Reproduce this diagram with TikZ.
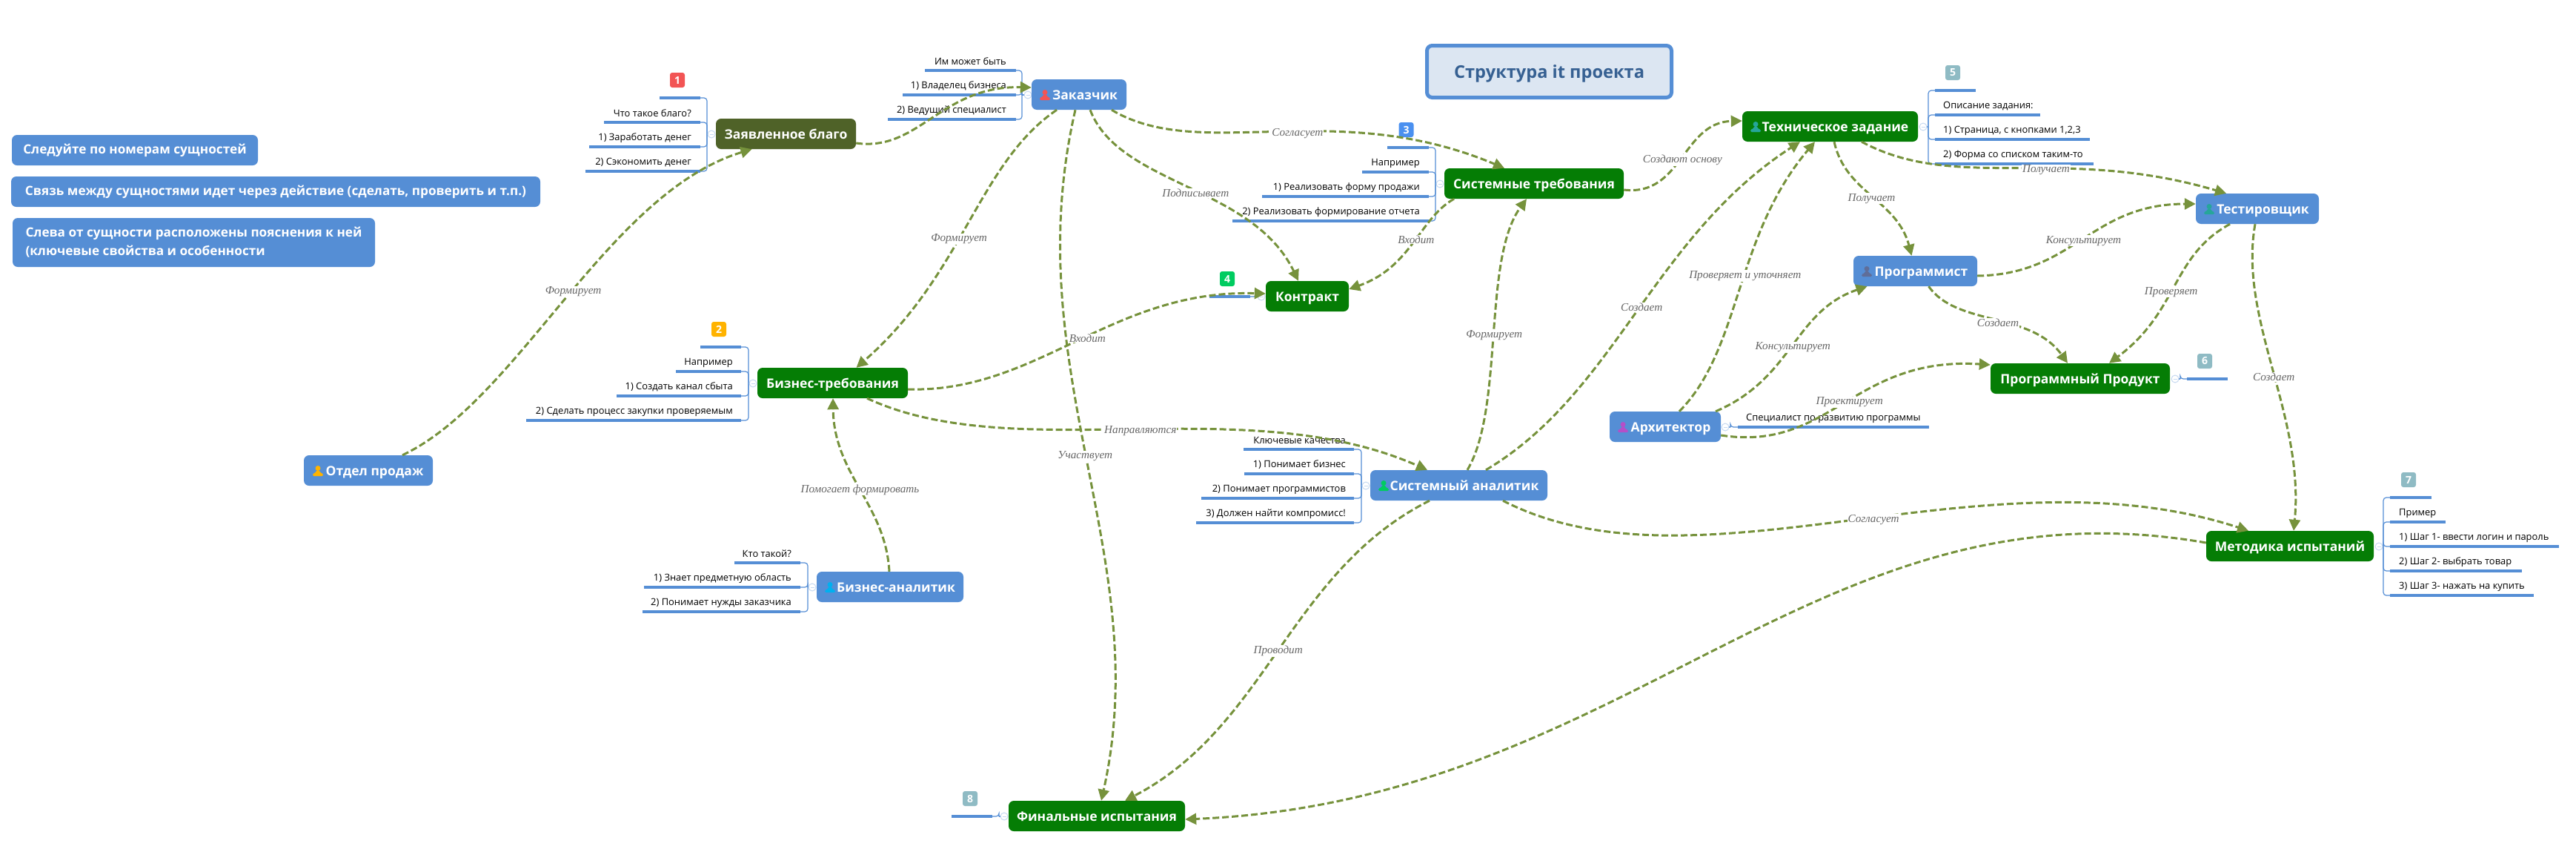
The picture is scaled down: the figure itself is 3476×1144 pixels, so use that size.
\documentclass[tikz,border=0pt]{standalone}
\usepackage{fontspec}
\setmainfont{Open Sans}
\newfontfamily\linkfont{Liberation Serif}
\usepackage{xcolor}
\usetikzlibrary{arrows.meta}

\definecolor{boxblue}{HTML}{558ED5}
\definecolor{boxgreen}{HTML}{057D05}
\definecolor{boxolive}{HTML}{4F6228}
\definecolor{linkolive}{HTML}{76923C}
\definecolor{foldblue}{HTML}{C6D9F1}
\definecolor{titlefill}{HTML}{DCE6F2}
\definecolor{titletext}{HTML}{366092}
\definecolor{badgegrey}{HTML}{8FBBC4}
\definecolor{markred}{HTML}{F25454}
\definecolor{markorange}{HTML}{FFB300}
\definecolor{markblue}{HTML}{4A90F0}
\definecolor{markgreen}{HTML}{00CC60}
\definecolor{markteal}{HTML}{26A69A}
\definecolor{markslate}{HTML}{5F6E99}
\definecolor{markcyan}{HTML}{00B0F0}
\definecolor{markviolet}{HTML}{B44FC8}

\tikzset{
	nodebox/.style = {rounded corners = 7, text = white, inner sep = 0, minimum height = 41, text height = 17, text depth = 2.6,
		font = \fontsize{17.5}{21}\selectfont\bfseries},
	bluebox/.style  = {nodebox, fill = boxblue},
	greenbox/.style = {nodebox, fill = boxgreen},
	olivebox/.style = {nodebox, fill = boxolive},
	notebox/.style  = {rounded corners = 7, fill = boxblue, text = white, inner sep = 0,
		font = \fontsize{17.2}{25}\selectfont\bfseries, align = left},
	badge/.style = {rounded corners = 3, text = white, minimum width = 20, minimum height = 20, inner sep = 0,
		font = \fontsize{14}{16}\selectfont\bfseries},
	itemline/.style = {color = boxblue, line width = 4},
	itembrace/.style = {color = boxblue, line width = 1.2},
	itemtext/.style = {font = \fontsize{12.9}{16}\selectfont, inner sep = 0},
	foldmark/.style = {circle, draw = foldblue, fill = white, line width = 1, minimum size = 10, inner sep = 0,
		path picture = {\draw [foldblue, line width = 1] (path picture bounding box.center) +(-2.5,0) -- +(2.5,0);}},
	link/.style = {color = linkolive, line width = 3, dash pattern = on 9 off 4, -{Triangle[length = 15, width = 15]}},
	linktext/.style = {fill = white, text = black!60, inner sep = 1, yshift = -2, font = \fontsize{15.2}{18}\selectfont\linkfont\itshape},
	person/.pic = {
		\fill [pic actions] (0,-3.5) circle (3.5);
		\fill [pic actions, rounded corners = 1.5] (-2,-1) -- (2,-1) -- (2.5,2) -- (7,4) -- (7,7) -- (-7,7) -- (-7,4) -- (-2.5,2) -- cycle;
	},
}

% name, line end, brace x, fold x, fold y, text x, text anchor, items y/other line end/text
\newcommand{\sublist}[8]{
	\foreach \yy/\xx/\txt in {#8} {
		\draw [itemline] (\xx,\yy) -- (#2,\yy);
		\draw [itembrace, rounded corners = 4] (#2,\yy) -- (#3,\yy) -- (#3,#5);
		\node [itemtext, anchor = #7] (#1\yy) at (#6,\yy-12) {\txt};
	}
	\draw [itembrace] (#3,#5) -- (#4,#5);
	\node [foldmark] (#1fold) at (#4,#5) {};
}

\begin{document}
\begin{tikzpicture}[x = 1pt, y = -1pt]
	\useasboundingbox (0,0) rectangle (3476,1144);

	% notes
	\begin{scope}
		\node [notebox, minimum width = 332, minimum height = 41] (note1) at (182,202.5) {Следуйте по номерам сущностей};
		\node [notebox, minimum width = 714, minimum height = 41] (note2) at (372,258.5) {Связь между сущностями идет через действие (сделать, проверить и т.п.)};
		\node [notebox, minimum width = 489, minimum height = 66] (note3) at (261.5,327) {Слева от сущности расположены пояснения к ней\\(ключевые свойства и особенности};
		\node [rounded corners = 7, draw = boxblue, fill = titlefill, line width = 5, text = titletext, minimum width = 330, minimum height = 70, inner sep = 0,
			text height = 22, text depth = 3.6, font = \fontsize{23.6}{28}\selectfont\bfseries] (title) at (2090.5,96.5) {Структура it проекта};
	\end{scope}

	% lists beside the boxes
	\sublist{blagoitem}{945}{954}{960}{181}{933}{east}{132/890/{},165/815/{Что такое благо?},198/795/{1) Заработать денег},231/790/{2) Сэкономить денег}}
	\sublist{zakitem}{1371}{1379}{1387}{128}{1358}{east}{95/1248/{Им может быть},128/1218/{1) Владелец бизнеса},161/1198/{2) Ведущий специалист}}
	\sublist{strebitem}{1928}{1937}{1943}{248}{1916}{east}{199/1872/{},232/1838/{Например},265/1703/{1) Реализовать форму продажи},298/1663/{2) Реализовать формирование отчета}}
	\sublist{konitem}{1687}{1696}{1702}{400}{1675}{east}{400/1632/{}}
	\sublist{btrebitem}{1000}{1010}{1016}{517}{989}{east}{468/945/{},501/912/{Например},534/832/{1) Создать канал сбыта},567/710/{2) Сделать процесс закупки проверяемым}}
	\sublist{banalitem}{1080}{1090}{1096}{792}{1068}{east}{759/991/{Кто такой?},792/869/{1) Знает предметную область},825/867/{2) Понимает нужды заказчика}}
	\sublist{sanalitem}{1827}{1837}{1843}{655}{1816}{east}{606/1678/{Ключевые качества},639/1679/{1) Понимает бизнес},672/1621/{2) Понимает программистов},705/1614/{3) Должен найти компромисс!}}
	\sublist{tzitem}{2611}{2602}{2595}{171}{2622}{west}{122/2666/{},155/2753/{Описание задания:},188/2820/{1) Страница, с кнопками 1,2,3},221/2825/{2) Форма со списком таким-то}}
	\sublist{architem}{2345}{2335}{2328}{576}{2356}{west}{576/2603/{Специалист по развитию программы}}
	\sublist{proditem}{2951}{2942}{2935}{511}{2965}{west}{511/3006/{}}
	\sublist{metoditem}{3225}{3216}{3210}{737}{3237}{west}{671/3281/{},704/3300/{Пример},737/3453/{1) Шаг 1- ввести логин и пароль},770/3403/{2) Шаг 2- выбрать товар},803/3419/{3) Шаг 3- нажать на купить}}
	\sublist{finalitem}{1339}{1348}{1355}{1101}{1330}{east}{1101/1284/{}}

	% badges
	\node [badge, fill = markred] (b1) at (914,108) {1};
	\node [badge, fill = markorange] (b2) at (970,444) {2};
	\node [badge, fill = markblue] (b3) at (1897.5,175) {3};
	\node [badge, fill = markgreen] (b4) at (1656,376) {4};
	\node [badge, fill = badgegrey] (b5) at (2635,98) {5};
	\node [badge, fill = badgegrey] (b6) at (2975,487) {6};
	\node [badge, fill = badgegrey] (b7) at (3250,647) {7};
	\node [badge, fill = badgegrey] (b8) at (1309,1077) {8};

	% boxes
	\node [bluebox, minimum width = 174] (otdel) at (497,634.5) {\hspace*{17pt}Отдел продаж};
	\node [olivebox, minimum width = 189] (blago) at (1060.5,180.5) {Заявленное благо};
	\node [bluebox, minimum width = 128] (zak) at (1456,127.5) {\hspace*{16pt}Заказчик};
	\node [greenbox, minimum width = 242] (streb) at (2070,247.5) {Системные требования};
	\node [greenbox, minimum width = 112] (kon) at (1764,399.5) {Контракт};
	\node [greenbox, minimum width = 237] (tz) at (2469.5,170.5) {\hspace*{14pt}Техническое задание};
	\node [bluebox, minimum width = 166] (test) at (3046,281.5) {\hspace*{15pt}Тестировщик};
	\node [bluebox, minimum width = 167] (prog) at (2584.5,365.5) {\hspace*{16pt}Программист};
	\node [greenbox, minimum width = 203] (btreb) at (1123.5,516.5) {Бизнес-требования};
	\node [bluebox, minimum width = 198] (banal) at (1201,791.5) {\hspace*{16pt}Бизнес-аналитик};
	\node [bluebox, minimum width = 239] (sanal) at (1968.5,654.5) {\hspace*{15pt}Системный аналитик};
	\node [bluebox, minimum width = 150] (arch) at (2247,575.5) {\hspace*{15pt}Архитектор};
	\node [greenbox, minimum width = 242] (prod) at (2807,510.5) {Программный Продукт};
	\node [greenbox, minimum width = 226] (metod) at (3090,736.5) {Методика испытаний};
	\node [greenbox, minimum width = 238] (final) at (1480,1100.5) {Финальные испытания};

	% persons in the boxes
	\pic [fill = markorange] at (429,635) {person};
	\pic [fill = markred] at (1410,128) {person};
	\pic [fill = markteal] at (2369,171) {person};
	\pic [fill = markteal] at (2981,282) {person};
	\pic [fill = markslate] at (2519,366) {person};
	\pic [fill = markcyan] at (1120,792) {person};
	\pic [fill = markgreen] at (1867,655) {person};
	\pic [fill = markviolet] at (2190,576) {person};

	% links
	\begin{scope}[link]
		\draw ([xshift = 46]otdel.north) .. controls (700,540) and (820,260) .. node [linktext, pos = .52] (t1) {Формирует} ([xshift = -46]blago.south);
		\draw ([yshift = -12.5]blago.east) .. controls (1240,205) and (1270,115) .. ([yshift = 9.5]zak.west);
		\draw ([xshift = -30]zak.south) .. controls (1320,220) and (1300,370) .. node [linktext, pos = .55] (t2) {Формирует} ([xshift = 32]btreb.north);
		\draw ([xshift = -5]zak.south) .. controls (1370,500) and (1560,750) .. node [linktext, pos = .49] (t3) {Участвует} ([xshift = 6]final.north);
		\draw ([xshift = 15]zak.south) .. controls (1510,250) and (1690,250) .. node [linktext, pos = .53] (t4) {Подписывает} ([xshift = -12]kon.north);
		\draw ([xshift = 44]zak.south) .. controls (1620,220) and (1800,130) .. node [linktext, pos = .55] (t5) {Согласует} ([xshift = -40]streb.north);
		\draw ([xshift = -108]streb.south) .. controls (1915,295) and (1905,360) .. node [linktext, pos = .45] (t6) {Входит} ([yshift = 9.5]kon.east);
		\draw ([yshift = -8.5]btreb.east) .. controls (1400,530) and (1500,390) .. node [linktext, pos = .53] (t7) {Входит} ([yshift = 3.5]kon.west);
		\draw ([xshift = 46.5]btreb.south) .. controls (1370,630) and (1680,525) .. node [linktext, pos = .51] (t8) {Направляются} ([xshift = -42.5]sanal.north);
		\draw ([xshift = 11.5]sanal.north) .. controls (2030,550) and (2000,350) .. node [linktext, pos = .5] (t9) {Формирует} ([xshift = -10]streb.south);
		\draw ([xshift = 36.5]sanal.north) .. controls (2180,530) and (2230,320) .. node [linktext, pos = .52] (t10) {Создает} ([xshift = -40.5]tz.south);
		\draw ([yshift = -8.5]streb.east) .. controls (2270,265) and (2270,165) .. node [linktext, pos = .5] (t11) {Создают основу} ([yshift = 7.5]tz.west);
		\draw ([xshift = 5.5]tz.south) .. controls (2490,260) and (2560,270) .. node [linktext, pos = .5] (t12) {Получает} ([xshift = -5]prog.north);
		\draw ([xshift = 42.5]tz.south) .. controls (2640,260) and (2780,195) .. node [linktext, pos = .58] (t13) {Получает} ([xshift = -42]test.north);
		\draw ([yshift = -6.5]prog.east) .. controls (2800,370) and (2820,275) .. node [linktext, pos = .5] (t14) {Консультирует} ([yshift = 6.5]test.west);
		\draw ([xshift = 18]prog.south) .. controls (2640,440) and (2740,420) .. node [linktext, pos = .52] (t15) {Создает} ([xshift = -17]prod.north);
		\draw ([xshift = -37]test.south) .. controls (2930,345) and (2940,420) .. node [linktext, pos = .53] (t16) {Проверяет} ([xshift = 39]prod.north);
		\draw ([xshift = -3]test.south) .. controls (3020,430) and (3110,560) .. node [linktext, pos = .52] (t17) {Создает} ([xshift = 5]metod.north);
		\draw ([xshift = 59.5]sanal.south) .. controls (2290,810) and (2680,600) .. node [linktext, pos = .53] (t18) {Согласует} ([xshift = -56]metod.north);
		\draw ([yshift = 4.5]metod.west) .. controls (2450,640) and (2200,1080) .. ([yshift = -4.5]final.east);
		\draw ([xshift = -39.5]sanal.south) .. controls (1740,770) and (1710,980) .. node [linktext, pos = .5] (t19) {Проводит} ([xshift = 38]final.north);
		\draw ([xshift = -1]banal.north) .. controls (1195,680) and (1125,640) .. node [linktext, pos = .5] (t20) {Помогает формировать} ([xshift = .5]btreb.south);
		\draw ([xshift = 19]arch.north) .. controls (2350,470) and (2340,320) .. node [linktext, pos = .55] (t21) {Проверяет и уточняет} ([xshift = -20.5]tz.south);
		\draw ([xshift = 68]arch.north) .. controls (2420,510) and (2420,420) .. node [linktext, pos = .5] (t22) {Консультирует} ([xshift = -65]prog.south);
		\draw ([yshift = -11.5]arch.east) .. controls (2470,610) and (2500,480) .. node [linktext, pos = .52] (t23) {Проектирует} ([yshift = 18.5]prod.west);
	\end{scope}
\end{tikzpicture}
\end{document}
